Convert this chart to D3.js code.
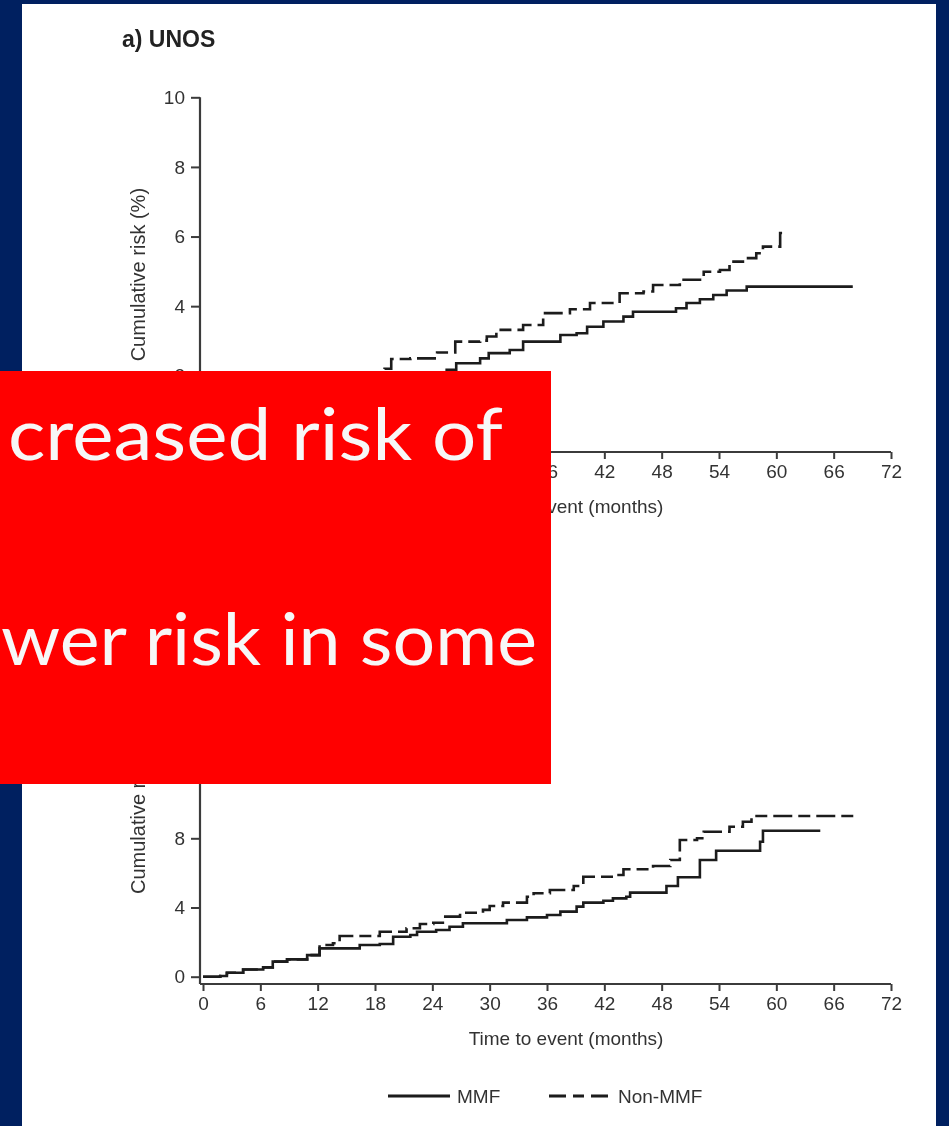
<!DOCTYPE html>
<html>
<head>
<meta charset="utf-8">
<script src="https://cdn.jsdelivr.net/npm/d3@7"></script>
<style>
  html, body { margin: 0; padding: 0; background: #002060; }
  svg { display: block; }
</style>
</head>
<body>
<svg id="slide" width="949" height="1126"></svg>
<script>
// Time axis (months)
const monthTicks = [0, 6, 12, 18, 24, 30, 36, 42, 48, 54, 60, 66, 72];

// Panel a) UNOS: cumulative risk (%)
const unosTicks = [0, 2, 4, 6, 8, 10];
const unosMmfMonths = [0, 2.5, 5, 7.5, 10, 12.5, 15, 17.5, 20, 22.5, 25.5, 26.5, 29, 29.9, 32.1, 33.5, 37.4, 39.1, 40.2, 41.9, 44, 45, 49.5, 50.6, 52, 53.4, 54.8, 56.9, 68];
const unosMmfRisk   = [0, 0.15, 0.35, 0.55, 0.75, 0.95, 1.15, 1.4, 1.65, 1.9, 2.17, 2.36, 2.5, 2.65, 2.74, 2.98, 3.17, 3.22, 3.41, 3.56, 3.70, 3.84, 3.94, 4.09, 4.2, 4.32, 4.45, 4.56, 4.56];
const unosNonMonths = [0, 2, 4, 6, 8, 10, 12, 14, 16, 18, 19.0, 19.7, 21.7, 24.5, 26.4, 29, 29.7, 30.7, 33.5, 35.6, 38.4, 40.5, 43.6, 46.1, 47.1, 49.9, 52.4, 54.1, 55.1, 56.9, 57.9, 58.6, 60.4, 60.6];
const unosNonRisk   = [0, 0.15, 0.35, 0.55, 0.75, 0.95, 1.2, 1.45, 1.7, 1.95, 2.2, 2.48, 2.5, 2.67, 2.98, 3.01, 3.13, 3.32, 3.46, 3.80, 3.91, 4.09, 4.37, 4.42, 4.61, 4.76, 4.99, 5.04, 5.28, 5.38, 5.52, 5.71, 6.1, 6.1];

// Panel b): cumulative risk (%)
const panelBTicks = [0, 4, 8, 12, 16, 20];
const bMmfMonths = [0, 1.8, 2.5, 4.2, 6.3, 7.3, 8.8, 10.9, 12.2, 16.4, 18.5, 19.9, 21.7, 22.4, 24.4, 25.8, 27.2, 31.8, 33.9, 36, 37.4, 39.1, 39.8, 41.9, 42.9, 44.3, 44.7, 48.5, 49.7, 52, 53.7, 58.3, 58.6, 64.6];
const bMmfRisk   = [0, 0.04, 0.23, 0.42, 0.54, 0.87, 1.0, 1.25, 1.64, 1.83, 1.89, 2.31, 2.41, 2.6, 2.7, 2.89, 3.09, 3.28, 3.43, 3.57, 3.76, 4.05, 4.28, 4.39, 4.53, 4.62, 4.86, 5.24, 5.75, 6.75, 7.28, 7.8, 8.44, 8.44];
const bNonMonths = [0, 1.8, 2.5, 4.2, 6.3, 7.3, 8.8, 10.9, 12.2, 13.6, 14.3, 18.5, 21.3, 22.7, 24.1, 25.1, 26.9, 29.3, 30, 31.4, 33.9, 34.6, 36.3, 38.8, 39.8, 43.3, 44, 47.1, 48.9, 49.9, 51.7, 52.4, 55.1, 56.5, 57.4, 68.2];
const bNonRisk   = [0, 0.04, 0.23, 0.42, 0.54, 0.87, 1.0, 1.25, 1.83, 1.93, 2.35, 2.6, 2.8, 3.05, 3.12, 3.47, 3.7, 3.86, 4.09, 4.28, 4.62, 4.82, 5.01, 5.24, 5.78, 5.88, 6.21, 6.4, 6.75, 7.9, 8.0, 8.38, 8.67, 8.96, 9.29, 9.29];

const legendLabels = ["MMF", "Non-MMF"];
const calloutLines = ["creased risk of", "wer risk in some"];

const svg = d3.select("#slide");
const ink = "#1c1c1c";
const textInk = "#333";
const font = "'Liberation Sans', Arial, Helvetica, sans-serif";
const dash = "19,6,12,6";

// white figure panel on the navy slide
svg.append("rect").attr("x", 22).attr("y", 4).attr("width", 914).attr("height", 1122).attr("fill", "#ffffff");

const defs = svg.append("defs");
defs.append("filter").attr("id", "soft")
  .append("feGaussianBlur").attr("stdDeviation", 0.55);

const fig = svg.append("g").attr("filter", "url(#soft)");

const x = d3.scaleLinear().domain([0, 72]).range([203, 891]);

function panel(yDomain, yRange, ticks, series, axisY) {
  const y = d3.scaleLinear().domain(yDomain).range(yRange);
  const g = fig.append("g");
  const left = 200;

  // y axis
  const ya = g.append("g").attr("transform", `translate(${left},0)`)
    .call(d3.axisLeft(y).tickValues(ticks).tickSize(9).tickPadding(6).tickSizeOuter(0));
  ya.select(".domain").remove();
  g.append("line").attr("x1", left).attr("x2", left)
    .attr("y1", y(yDomain[1])).attr("y2", axisY)
    .attr("stroke", "#3a3a3a").attr("stroke-width", 2.2);

  // x axis
  const xa = g.append("g").attr("transform", `translate(0,${axisY})`)
    .call(d3.axisBottom(x).tickValues(monthTicks).tickSize(7).tickPadding(6).tickSizeOuter(0));
  xa.select(".domain").remove();
  g.append("line").attr("x1", left).attr("x2", x(72))
    .attr("y1", axisY).attr("y2", axisY)
    .attr("stroke", "#3a3a3a").attr("stroke-width", 2.2);

  g.selectAll(".tick line").attr("stroke", "#3a3a3a").attr("stroke-width", 2);
  g.selectAll(".tick text").attr("font-family", font).attr("font-size", 19).attr("fill", textInk);

  // axis titles
  g.append("text").attr("x", 566).attr("y", axisY + 61)
    .attr("text-anchor", "middle").attr("font-family", font).attr("font-size", 19)
    .attr("fill", textInk).text("Time to event (months)");
  g.append("text")
    .attr("transform", `translate(145,${(y(yDomain[1]) + axisY) / 2}) rotate(-90)`)
    .attr("text-anchor", "middle").attr("font-family", font).attr("font-size", 20)
    .attr("fill", textInk).text("Cumulative risk (%)");

  const line = d3.line().curve(d3.curveStepAfter).x(d => x(d[0])).y(d => y(d[1]));
  series.forEach(s => {
    g.append("path").datum(d3.zip(s.months, s.risk))
      .attr("d", line).attr("fill", "none").attr("stroke", ink)
      .attr("stroke-width", 2.6)
      .attr("stroke-dasharray", s.dashed ? dash : null);
  });
}

// panel title
fig.append("text").attr("x", 122).attr("y", 47)
  .attr("font-family", font).attr("font-size", 23).attr("font-weight", "bold")
  .attr("fill", "#222").text("a) UNOS");

panel([0, 10], [445.4, 97.3], unosTicks, [
  { months: unosMmfMonths, risk: unosMmfRisk, dashed: false },
  { months: unosNonMonths, risk: unosNonRisk, dashed: true }
], 452);

panel([0, 20], [976.7, 630.7], panelBTicks, [
  { months: bMmfMonths, risk: bMmfRisk, dashed: false },
  { months: bNonMonths, risk: bNonRisk, dashed: true }
], 984);

// legend
const leg = fig.append("g");
const legendItems = [
  { label: legendLabels[0], x0: 388, x1: 450, dashed: false },
  { label: legendLabels[1], x0: 549, x1: 611, dashed: true }
];
legendItems.forEach(it => {
  leg.append("line").attr("x1", it.x0).attr("x2", it.x1).attr("y1", 1096).attr("y2", 1096)
    .attr("stroke", ink).attr("stroke-width", 2.8)
    .attr("stroke-dasharray", it.dashed ? "17,7,11,7" : null);
  leg.append("text").attr("x", it.x1 + 7).attr("y", 1103)
    .attr("font-family", font).attr("font-size", 19).attr("fill", textInk).text(it.label);
});

// red callout box over the slide
const callout = svg.append("g");
callout.append("rect").attr("x", 0).attr("y", 371).attr("width", 551).attr("height", 413).attr("fill", "#ff0000");
callout.append("text").attr("x", 8).attr("y", 460)
  .attr("font-family", "Lato, 'Open Sans', sans-serif").attr("font-size", 72)
  .attr("fill", "#f7f7f7").attr("textLength", 495).attr("lengthAdjust", "spacingAndGlyphs")
  .text(calloutLines[0]);
callout.append("text").attr("x", 1).attr("y", 665)
  .attr("font-family", "Lato, 'Open Sans', sans-serif").attr("font-size", 72)
  .attr("fill", "#f7f7f7").attr("textLength", 536).attr("lengthAdjust", "spacingAndGlyphs")
  .text(calloutLines[1]);
</script>
</body>
</html>
